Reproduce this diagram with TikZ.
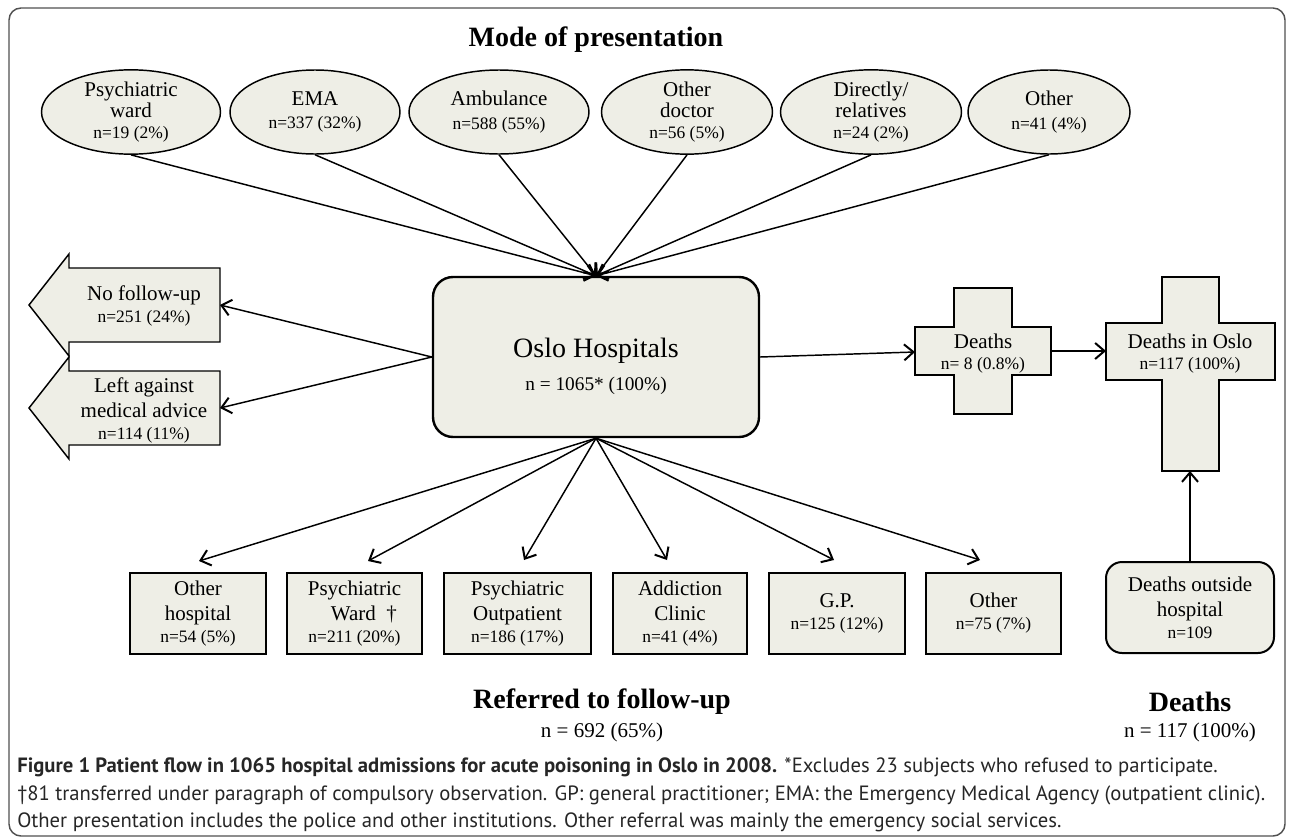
\documentclass[tikz,border=0pt]{standalone}
\usepackage{fontspec}
\setmainfont{Liberation Serif}
\newfontfamily\capfont{PT Sans}
\usetikzlibrary{arrows.meta,shapes.geometric,calc}
\definecolor{boxfill}{RGB}{238,238,230}
\definecolor{framecol}{RGB}{80,80,80}
\newcommand\pxu{0.75pt}
\newcommand\mainsz{\fontsize{15.75}{18.75}\selectfont}
\newcommand\ellsz{\fontsize{15.75}{15.5}\selectfont}
\newcommand\nsz{\fontsize{13.1}{16}\selectfont}
\newcommand\titlesz{\fontsize{21}{24}\selectfont\bfseries}
\newcommand\oslosz{\fontsize{21}{24}\selectfont}
\newcommand\oslonsz{\fontsize{14.5}{17}\selectfont}
\newcommand\capsz{\fontsize{15.5}{18}\selectfont}
\begin{document}
\begin{tikzpicture}[x=0.75pt,y=-0.75pt,
  conn/.style={line width=1.1pt, -{Straight Barb[length=7pt,width=12pt,line width=1.5pt]}},
  ell/.style={ellipse, draw, line width=1.1pt, fill=boxfill, minimum height=84*\pxu, inner sep=0pt, align=center, font=\ellsz},
  fbox/.style={rectangle, draw, line width=1.5pt, fill=boxfill, minimum height=81*\pxu, inner sep=0pt, align=center, font=\mainsz},
  shapeline/.style={draw, line width=1.1pt, fill=boxfill},
  txt/.style={align=center, font=\mainsz, inner sep=0pt},
  ttl/.style={align=center, font=\titlesz, inner sep=0pt},
  captxt/.style={anchor=west, inner sep=0pt, font=\capfont\capsz, text=black!85},
]
\useasboundingbox (0,0) rectangle (1292,839);
\draw[framecol, line width=1.1pt, rounded corners=9pt] (9,8) rectangle (1285,836);

% titles
\node[ttl] (tmode) at (596,40) {Mode of presentation};
\node[ttl] (tref) at (602,702) {Referred to follow-up};
\node[txt] (tref2) at (602,732) {n = 692 (65\%)};
\node[ttl] (tdeath) at (1190,702) {Deaths};
\node[txt] (tdeath2) at (1190,732) {n = 117 (100\%)};

% ellipses
\node[ell, minimum width=179*\pxu] (e1) at (131,112) {Psychiatric\\ward\\{\nsz n=19 (2\%)}};
\node[ell, minimum width=170*\pxu] (e2) at (315,112) {EMA\\[2pt]{\nsz n=337 (32\%)}};
\node[ell, minimum width=180*\pxu] (e3) at (499,112) {Ambulance\\[2pt]{\nsz n=588 (55\%)}};
\node[ell, minimum width=171*\pxu] (e4) at (687,112) {Other\\doctor\\{\nsz n=56 (5\%)}};
\node[ell, minimum width=181*\pxu] (e5) at (871,112) {Directly/\\relatives\\{\nsz n=24 (2\%)}};
\node[ell, minimum width=162*\pxu] (e6) at (1049,112) {Other\\[2pt]{\nsz n=41 (4\%)}};

% hospital
\node[rectangle, rounded corners=15pt, draw, line width=1.8pt, fill=boxfill,
      minimum width=326*\pxu, minimum height=160*\pxu] (hosp) at (596,357) {};
\node[align=center, inner sep=0pt] (hosptxt) at (596,366)
  {{\oslosz Oslo Hospitals}\\[9pt]{\oslonsz n = 1065* (100\%)}};

\foreach \e in {e1,e2,e3,e4,e5,e6} \draw[conn] (\e.south) -- (hosp.north);

% left block arrows
\draw[shapeline] (220,268) -- (69,268) -- (69,254) -- (29,305) -- (69,356) -- (69,342) -- (220,342) -- cycle;
\draw[shapeline] (220,371) -- (69,371) -- (69,357) -- (29,408) -- (69,459) -- (69,445) -- (220,445) -- cycle;
\node[txt] (nofu) at (144,306) {No follow-up\\[-2.25pt]{\nsz n=251 (24\%)}};
\node[txt] (laa) at (144,410) {Left against\\medical advice\\[-2.25pt]{\nsz n=114 (11\%)}};
\coordinate (nofuR) at (220,305);
\coordinate (laaR) at (220,408);
\draw[conn] (hosp.west) -- (nofuR);
\draw[conn] (hosp.west) -- (laaR);

% crosses
\draw[shapeline] (954,288) -- (1012,288) -- (1012,327) -- (1051,327) -- (1051,375) -- (1012,375) -- (1012,414) -- (954,414) -- (954,375) -- (915,375) -- (915,327) -- (954,327) -- cycle;
\draw[shapeline] (1162,277) -- (1219,277) -- (1219,323) -- (1275,323) -- (1275,380) -- (1219,380) -- (1219,471) -- (1162,471) -- (1162,380) -- (1106,380) -- (1106,323) -- (1162,323) -- cycle;
\node[txt] (deaths) at (983,354) {Deaths\\[-3pt]{\nsz n= 8 (0.8\%)}};
\node[txt] (dio) at (1190,354) {Deaths in Oslo\\[-3pt]{\nsz n=117 (100\%)}};
\coordinate (deathsL) at (915,352);
\coordinate (deathsR) at (1051,351);
\coordinate (dioL) at (1106,351);
\coordinate (dioB) at (1190,471);
\draw[conn] (hosp.east) -- (deathsL);
\draw[conn] (deathsR) -- (dioL);

% deaths outside hospital
\node[rectangle, rounded corners=12pt, draw, line width=1.5pt, fill=boxfill,
      minimum width=168*\pxu, minimum height=91*\pxu, align=center, font=\mainsz, inner sep=0pt]
      (doh) at (1190,607.5) {Deaths outside\\hospital\\[-2.25pt]{\nsz n=109}};
\draw[conn] (doh.north) -- (dioB);

% bottom boxes
\node[fbox, minimum width=136*\pxu] (b1) at (198,613.5) {Other\\hospital\\[-2.25pt]{\nsz n=54 (5\%)}};
\node[fbox, minimum width=135*\pxu] (b2) at (354.5,613.5) {Psychiatric\\\hspace*{14pt}Ward\enspace †\\[-2.25pt]{\nsz n=211 (20\%)}};
\node[fbox, minimum width=147*\pxu] (b3) at (517.5,613.5) {Psychiatric\\Outpatient\\[-2.25pt]{\nsz n=186 (17\%)}};
\node[fbox, minimum width=134*\pxu] (b4) at (680,613.5) {Addiction\\Clinic\\[-2.25pt]{\nsz n=41 (4\%)}};
\node[fbox, minimum width=136*\pxu] (b5) at (837,613.5) {G.P.\\[-2.25pt]{\nsz n=125 (12\%)}};
\node[fbox, minimum width=135*\pxu] (b6) at (993.5,613.5) {Other\\[-2.25pt]{\nsz n=75 (7\%)}};
\coordinate (t1) at (199,561);
\coordinate (t2) at (368,561);
\coordinate (t3) at (524,560);
\coordinate (t4) at (667,560);
\coordinate (t5) at (834,560);
\coordinate (t6) at (980,560);
\foreach \t in {t1,t2,t3,t4,t5,t6} \draw[conn] (hosp.south) -- (\t);

% caption
\node[captxt] (cap1) at (17,767) {{\bfseries Figure 1 Patient flow in 1065 hospital admissions for acute poisoning in Oslo in 2008.} *Excludes 23 subjects who refused to participate.};
\node[captxt] (cap2) at (17,795) {†81 transferred under paragraph of compulsory observation. GP: general practitioner; EMA: the Emergency Medical Agency (outpatient clinic).};
\node[captxt] (cap3) at (17,822) {Other presentation includes the police and other institutions. Other referral was mainly the emergency social services.};
\end{tikzpicture}
\end{document}
